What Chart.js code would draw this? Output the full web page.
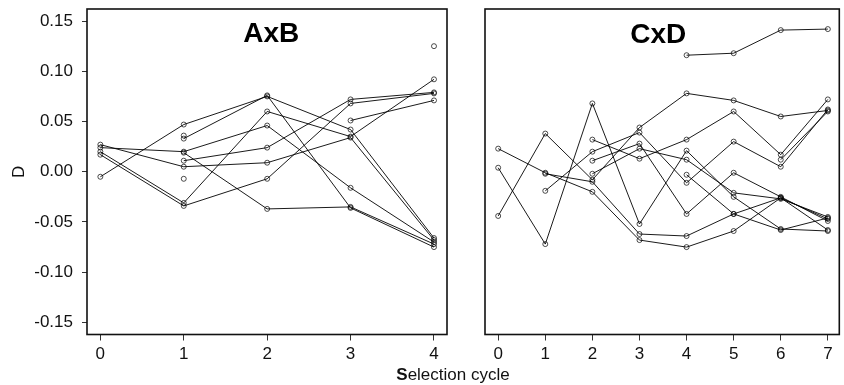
<!DOCTYPE html>
<html><head><meta charset="utf-8">
<script src="https://cdn.jsdelivr.net/npm/chart.js@4/dist/chart.umd.min.js"></script>
<style>
html,body{margin:0;padding:0;background:#fff;}
#wrap{position:relative;width:844px;height:385px;overflow:hidden;background:#fff;}
canvas{position:absolute;top:0;}
#xt{position:absolute;top:365px;left:0;width:906px;text-align:center;font:17px "Liberation Sans",Arial,sans-serif;color:#111;white-space:nowrap;}
</style></head><body>
<div id="wrap">
<canvas id="c1" width="466" height="385" style="left:0"></canvas>
<canvas id="c2" width="378" height="385" style="left:466px"></canvas>
<div id="xt"><span style="font-weight:bold">S</span>election cycle</div>
</div>
<script>
// ---- data ----
const yTicks = [-0.15, -0.10, -0.05, 0.00, 0.05, 0.10, 0.15];
const axbTitle = 'AxB';
const cxdTitle = 'CxD';
const axbCycles = [0, 1, 2, 3, 4];
const cxdCycles = [0, 1, 2, 3, 4, 5, 6, 7];
const axbSeries = [
  [-0.005, 0.047, 0.075, 0.042, -0.066],
  [null, 0.033, 0.076, -0.036, -0.075],
  [0.024, 0.020, 0.046, -0.016, -0.070],
  [null, 0.019, -0.037, -0.035, -0.072],
  [null, 0.011, 0.024, 0.072, 0.079],
  [0.027, 0.005, 0.009, 0.034, -0.068],
  [0.020, -0.031, 0.060, 0.035, 0.092],
  [0.017, -0.034, -0.007, 0.068, 0.078],
  [null, null, null, 0.051, 0.071],
  [null, null, null, null, 0.125],
  [null, -0.007, null, null, null],
  [null, 0.036, null, null, null]
];
const cxdSeries = [
  [null, null, null, null, 0.116, 0.118, 0.141, 0.142],
  [-0.044, 0.038, -0.008, 0.044, 0.078, 0.071, 0.055, 0.061],
  [0.023, -0.001, -0.020, -0.068, -0.075, -0.059, -0.026, -0.047],
  [0.004, -0.072, 0.068, -0.052, 0.021, -0.025, -0.057, -0.059],
  [null, -0.019, 0.020, 0.039, -0.011, 0.030, 0.005, 0.062],
  [null, -0.002, -0.010, -0.062, -0.064, -0.042, -0.058, -0.046],
  [null, null, 0.032, 0.013, 0.032, 0.060, 0.017, 0.072],
  [null, null, 0.011, 0.028, -0.042, -0.001, -0.025, -0.049],
  [null, null, -0.002, 0.023, 0.012, -0.021, -0.027, -0.045],
  [null, null, null, null, -0.003, -0.042, -0.026, -0.058],
  [null, null, null, null, null, null, 0.012, 0.060]
];

// ---- drawing ----
const FONT = 'Liberation Sans';
const INK = '#111';
const panelDecor = {
  id: 'panelDecor',
  afterDraw(chart, args, o) {
    const {ctx, chartArea: a, scales} = chart;
    ctx.save();
    ctx.strokeStyle = '#111';
    ctx.lineWidth = 1.6;
    ctx.strokeRect(a.left, a.top, a.right - a.left, a.bottom - a.top);
    ctx.font = 'bold 28px "Liberation Sans", Arial, sans-serif';
    ctx.fillStyle = '#000';
    ctx.textAlign = 'center';
    ctx.textBaseline = 'middle';
    ctx.fillText(o.text, scales.x.getPixelForValue(o.tx), scales.y.getPixelForValue(o.ty));
    ctx.restore();
  }
};

function buildDatasets(cycles, series) {
  return series.map(s => ({
    data: cycles.map((c, i) => ({x: c, y: s[i]})),
    borderColor: '#000',
    borderWidth: 0.9,
    pointRadius: 2.5,
    pointBorderWidth: 0.7,
    pointBorderColor: '#000',
    pointBackgroundColor: 'rgba(0,0,0,0)',
    tension: 0,
    spanGaps: false
  }));
}

function makeChart(id, cycles, series, cfg) {
  return new Chart(document.getElementById(id), {
    type: 'line',
    data: {datasets: buildDatasets(cycles, series)},
    options: {
      responsive: false,
      animation: false,
      devicePixelRatio: 1,
      layout: {padding: cfg.padding},
      plugins: {
        legend: {display: false},
        tooltip: {enabled: false},
        panelDecor: {text: cfg.title, tx: cfg.tx, ty: cfg.ty}
      },
      scales: {
        x: {
          type: 'linear', min: cfg.xmin, max: cfg.xmax,
          afterBuildTicks: s => { s.ticks = cycles.map(v => ({value: v})); },
          afterFit: s => { s.height = 50.5; s.paddingLeft = 0; s.paddingRight = 0; },
          grid: {drawOnChartArea: false, drawTicks: true, tickLength: 6, color: '#333', lineWidth: 1},
          border: {display: false},
          ticks: {padding: 4, color: INK, font: {family: FONT, size: 17}, maxRotation: 0, callback: v => String(v)}
        },
        y: cfg.showY ? {
          type: 'linear', min: -0.162, max: 0.162,
          afterBuildTicks: s => { s.ticks = yTicks.map(v => ({value: v})); },
          afterFit: s => { s.width = 87; s.paddingTop = 0; s.paddingBottom = 0; },
          grid: {drawOnChartArea: false, drawTicks: true, tickLength: 5, color: '#333', lineWidth: 1},
          border: {display: false},
          ticks: {padding: 9, color: INK, font: {family: FONT, size: 17}, callback: v => Number(v).toFixed(2)},
          title: {display: true, text: 'D', color: INK, font: {family: FONT, size: 17}, padding: {top: 9, bottom: 0}}
        } : {
          type: 'linear', min: -0.162, max: 0.162,
          afterFit: s => { s.width = 19; s.paddingTop = 0; s.paddingBottom = 0; },
          grid: {display: false},
          border: {display: false},
          ticks: {display: false}
        }
      }
    },
    plugins: [panelDecor]
  });
}

makeChart('c1', axbCycles, axbSeries, {
  title: axbTitle, tx: 2.05, ty: 0.137, xmin: -0.16, xmax: 4.156, showY: true,
  padding: {left: 0, top: 9, right: 19, bottom: 0}
});
makeChart('c2', cxdCycles, cxdSeries, {
  title: cxdTitle, tx: 3.4, ty: 0.136, xmin: -0.28, xmax: 7.243, showY: false,
  padding: {left: 0, top: 9, right: 1, bottom: 0}
});
</script>
</body></html>
